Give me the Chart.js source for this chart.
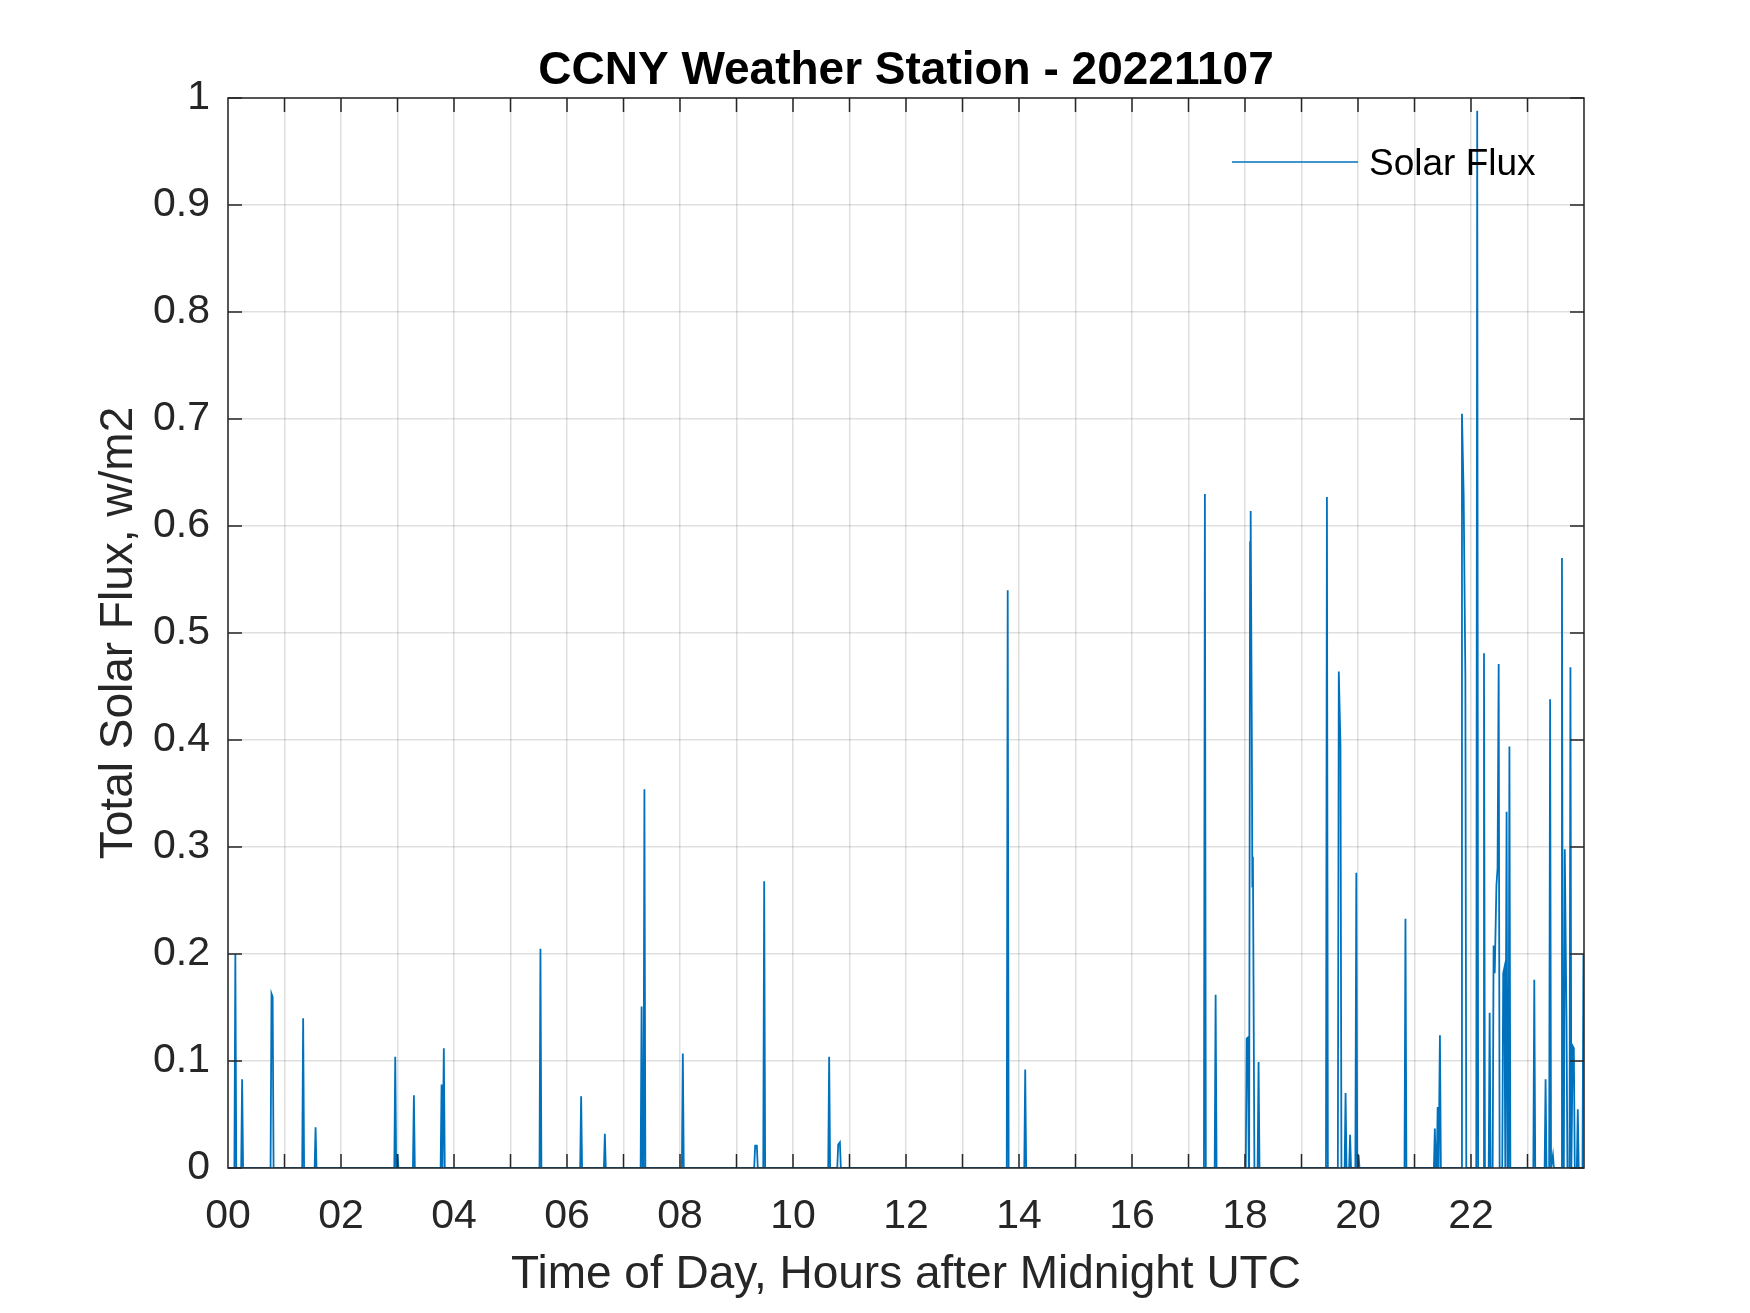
<!DOCTYPE html>
<html>
<head>
<meta charset="utf-8">
<title>CCNY Weather Station - 20221107</title>
<script src="https://cdn.jsdelivr.net/npm/chart.js@4.4.1/dist/chart.umd.min.js"></script>
<style>
   html, body { margin: 0; padding: 0; background: #ffffff; }
   #chart-box { width: 1750px; height: 1313px; }
</style>
</head>
<body>
<div id="chart-box">
   <canvas id="solarChart" width="1750" height="1313"></canvas>
</div>
<script>
// readings that are not zero (hour of day UTC, w/m2); everything else in the day reads 0
const spikeHours = [
   0.13, 0.25, 0.77, 0.79, 1.33, 1.55, 2.96, 3.00, 3.29, 3.78, 3.82,
   5.53, 6.25, 6.67, 7.32, 7.37, 8.05, 9.33, 9.36, 9.49, 10.64, 10.80, 10.83,
   13.80, 14.11,
   17.29, 17.48, 18.03, 18.05, 18.09, 18.10, 18.12, 18.13, 18.14, 18.15, 18.24,
   19.45, 19.66, 19.69, 19.78, 19.86, 19.97, 20.01, 20.84,
   21.36, 21.41, 21.45, 21.84, 21.87, 21.90, 22.11, 22.23, 22.33,
   22.40, 22.42, 22.45, 22.47, 22.49, 22.57, 22.59, 22.63, 22.68,
   23.12, 23.32, 23.40, 23.45, 23.61, 23.66, 23.69, 23.76, 23.80, 23.82, 23.89, 23.99
];
const spikeValues = [
   0.200, 0.083, 0.163, 0.160, 0.140, 0.038, 0.104, 0.013, 0.068, 0.078, 0.112,
   0.205, 0.067, 0.032, 0.151, 0.354, 0.107, 0.021, 0.021, 0.268, 0.104, 0.022, 0.024,
   0.540, 0.092,
   0.630, 0.162, 0.121, 0.122, 0.585, 0.614, 0.415, 0.263, 0.291, 0.180, 0.099,
   0.627, 0.464, 0.394, 0.070, 0.031, 0.276, 0.012, 0.233,
   0.037, 0.057, 0.124, 0.705, 0.629, 0.461, 0.988, 0.481, 0.145,
   0.208, 0.182, 0.264, 0.280, 0.471, 0.182, 0.187, 0.333, 0.394,
   0.176, 0.083, 0.438, 0.012, 0.570, 0.298, 0.139, 0.468, 0.114, 0.112, 0.055, 0.200
];
const xTickHours = [0, 2, 4, 6, 8, 10, 12, 14, 16, 18, 20, 22];
const yTicks = [0, 0.1, 0.2, 0.3, 0.4, 0.5, 0.6, 0.7, 0.8, 0.9, 1];

const titleText = "CCNY Weather Station - 20221107";
const xLabel = "Time of Day, Hours after Midnight UTC";
const yLabel = "Total Solar Flux, w/m2";
const seriesName = "Solar Flux";

const sampleStep = 1 / 60; // one reading a minute
const lineBlue = "#0072BD";
const axisGray = "#262626";

function buildPoints() {
   let pts = [{ x: 0, y: 0 }];
   for (let i = 0; i < spikeHours.length; i++) {
      let t = spikeHours[i];
      let prev = i > 0 ? spikeHours[i - 1] : -1;
      let next = i < spikeHours.length - 1 ? spikeHours[i + 1] : 99;
      if (t - prev > 2 * sampleStep && t - sampleStep > 0) pts.push({ x: t - sampleStep, y: 0 });
      pts.push({ x: t, y: spikeValues[i] });
      if (next - t > 2 * sampleStep && t + sampleStep <= 24) pts.push({ x: t + sampleStep, y: 0 });
   }
   return pts;
}

const decorPlugin = {
   id: "decor",
   afterDraw(chart) {
      const ctx = chart.ctx;
      const area = chart.chartArea;
      const xs = chart.scales.x;
      const ys = chart.scales.y;
      ctx.save();

      // box
      ctx.strokeStyle = axisGray;
      ctx.lineWidth = 1.5;
      ctx.strokeRect(area.left, area.top, area.right - area.left, area.bottom - area.top);

      // inward ticks, all four sides
      const tickLen = 14;
      ctx.beginPath();
      for (let h = 1; h < 24; h++) {
         let px = xs.getPixelForValue(h);
         ctx.moveTo(px, area.bottom); ctx.lineTo(px, area.bottom - tickLen);
         ctx.moveTo(px, area.top); ctx.lineTo(px, area.top + tickLen);
      }
      yTicks.forEach(v => {
         let py = ys.getPixelForValue(v);
         ctx.moveTo(area.left, py); ctx.lineTo(area.left + tickLen, py);
         ctx.moveTo(area.right, py); ctx.lineTo(area.right - tickLen, py);
      });
      ctx.stroke();

      // title
      const midX = (area.left + area.right) / 2;
      ctx.fillStyle = "#000000";
      ctx.textAlign = "center";
      ctx.textBaseline = "alphabetic";
      ctx.font = "bold 46px 'Liberation Sans', Arial, sans-serif";
      ctx.fillText(titleText, midX, 84);

      // axis labels
      ctx.fillStyle = axisGray;
      ctx.font = "46px 'Liberation Sans', Arial, sans-serif";
      ctx.fillText(xLabel, midX, 1288);
      ctx.save();
      ctx.translate(132, (area.top + area.bottom) / 2);
      ctx.rotate(-Math.PI / 2);
      ctx.fillText(yLabel, 0, 0);
      ctx.restore();

      // legend, no box
      ctx.strokeStyle = lineBlue;
      ctx.lineWidth = 1.5;
      ctx.beginPath();
      ctx.moveTo(1232, 162);
      ctx.lineTo(1358, 162);
      ctx.stroke();
      ctx.fillStyle = "#000000";
      ctx.textAlign = "left";
      ctx.font = "37px 'Liberation Sans', Arial, sans-serif";
      ctx.fillText(seriesName, 1369, 175);

      ctx.restore();
   }
};

document.addEventListener("DOMContentLoaded", function () {
   const canvas = document.getElementById("solarChart");
   if (!canvas) {
      console.error("Error: Canvas element not found.");
      return;
   }
   const ctx = canvas.getContext("2d");
   new Chart(ctx, {
      type: "line",
      data: {
         datasets: [{
            label: seriesName,
            data: buildPoints(),
            borderColor: lineBlue,
            borderWidth: 1.8,
            pointRadius: 0,
            tension: 0,
            fill: false
         }]
      },
      options: {
         responsive: false,
         animation: false,
         devicePixelRatio: 1,
         layout: { padding: { left: 0, right: 166, top: 98, bottom: 0 } },
         plugins: {
            legend: { display: false },
            title: { display: false },
            tooltip: { enabled: false }
         },
         scales: {
            x: {
               type: "linear",
               min: 0,
               max: 24,
               afterFit: function (scale) { scale.height = 145; },
               afterBuildTicks: function (scale) {
                  let t = [];
                  for (let h = 0; h <= 24; h++) t.push({ value: h });
                  scale.ticks = t;
               },
               ticks: {
                  autoSkip: false,
                  maxRotation: 0,
                  padding: 24,
                  color: axisGray,
                  font: { family: "'Liberation Sans', Arial, sans-serif", size: 41 },
                  callback: function (value) {
                     return xTickHours.includes(value) ? String(value).padStart(2, "0") : "";
                  }
               },
               grid: { color: "rgba(38,38,38,0.15)", lineWidth: 1.5, drawTicks: false },
               border: { display: false }
            },
            y: {
               min: 0,
               max: 1,
               afterFit: function (scale) { scale.width = 228; },
               afterBuildTicks: function (scale) {
                  scale.ticks = yTicks.map(v => ({ value: v }));
               },
               ticks: {
                  padding: 18,
                  color: axisGray,
                  font: { family: "'Liberation Sans', Arial, sans-serif", size: 41 },
                  callback: function (value) {
                     let v = Math.round(value * 10) / 10;
                     return (v === 0 || v === 1) ? String(v) : v.toFixed(1);
                  }
               },
               grid: { color: "rgba(38,38,38,0.15)", lineWidth: 1.5, drawTicks: false },
               border: { display: false }
            }
         }
      },
      plugins: [decorPlugin]
   });
});
</script>
</body>
</html>
